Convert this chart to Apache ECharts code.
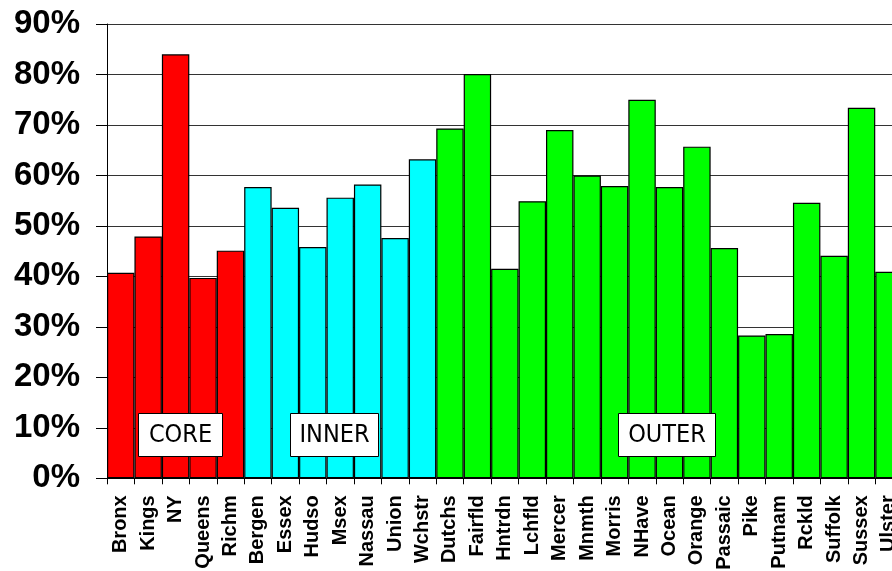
<!DOCTYPE html>
<html>
<head>
<meta charset="utf-8">
<script src="https://cdn.jsdelivr.net/npm/echarts@6/dist/echarts.min.js"></script>
<style>html,body{margin:0;padding:0;background:#fff;overflow:hidden}#c{width:892px;height:571px}</style>
</head>
<body>
<div id="c"></div>
<script>
const categories = ['Bronx','Kings','NY','Queens','Richm','Bergen','Essex','Hudso','Msex','Nassau','Union','Wchstr','Dutchs','Fairfld','Hntrdn','Lchfld','Mercer','Mnmth','Morris','NHave','Ocean','Orange','Passaic','Pike','Putnam','Rckld','Suffolk','Sussex','Ulster'];
const values = [40.7,47.9,84.0,39.7,45.1,57.7,53.6,45.8,55.6,58.2,47.6,63.2,69.3,80.1,41.5,54.9,69.0,60.0,57.9,75.0,57.7,65.7,45.6,28.3,28.6,54.6,44.1,73.4,40.9];
const groups = ['CORE','CORE','CORE','CORE','CORE','INNER','INNER','INNER','INNER','INNER','INNER','INNER','OUTER','OUTER','OUTER','OUTER','OUTER','OUTER','OUTER','OUTER','OUTER','OUTER','OUTER','OUTER','OUTER','OUTER','OUTER','OUTER','OUTER'];
const groupColors = {CORE:'#FF0000', INNER:'#00FFFF', OUTER:'#00FF00'};
const yTicks = [0,10,20,30,40,50,60,70,80,90];

const chart = echarts.init(document.getElementById('c'), null, {renderer:'canvas'});
const boxes = [
  {text:'CORE', x:138, w:84},
  {text:'INNER', x:290, w:88},
  {text:'OUTER', x:618, w:97}
];
chart.setOption({
  animation:false,
  grid:{left:107, top:24, width:795.7, height:454.3, containLabel:false, outerBoundsMode:'none'},
  xAxis:{
    type:'category', data:categories,
    axisLine:{lineStyle:{color:'#000', width:1}},
    axisTick:{show:true, length:6, lineStyle:{color:'#000'}},
    axisLabel:{rotate:90, interval:0, margin:17, color:'#000', fontFamily:'Liberation Sans, Arial, sans-serif', fontWeight:'bold', fontSize:20, hideOverlap:false}
  },
  yAxis:{
    type:'value', min:yTicks[0], max:yTicks[yTicks.length-1], interval:10,
    axisLine:{show:true, lineStyle:{color:'#000', width:1}},
    axisTick:{show:true, length:11, lineStyle:{color:'#000'}},
    splitLine:{show:true, lineStyle:{color:'#333', width:1.2}},
    axisLabel:{margin:27, color:'#000', fontFamily:'Liberation Sans, Arial, sans-serif', fontWeight:'bold', fontSize:33, formatter:'{value}%'}
  },
  series:[{
    type:'bar', barCategoryGap:'0%',
    data: values.map((v,i)=>({value:v, itemStyle:{color:groupColors[groups[i]]}})),
    itemStyle:{borderColor:'#000', borderWidth:1.2}
  }],
  graphic: boxes.map(b=>({
    type:'group', left:b.x, top:413, z:100,
    children:[
      {type:'rect', z:100, shape:{x:0,y:0,width:b.w,height:43}, style:{fill:'#fff', stroke:'#000', lineWidth:1}},
      {type:'text', z:101, x:b.w/2, y:22, style:{text:b.text, fill:'#000', font:'25px "Liberation Sans Narrow", "DejaVu Sans Condensed", sans-serif', align:'center', verticalAlign:'middle'}}
    ]
  }))
});
</script>
</body>
</html>
